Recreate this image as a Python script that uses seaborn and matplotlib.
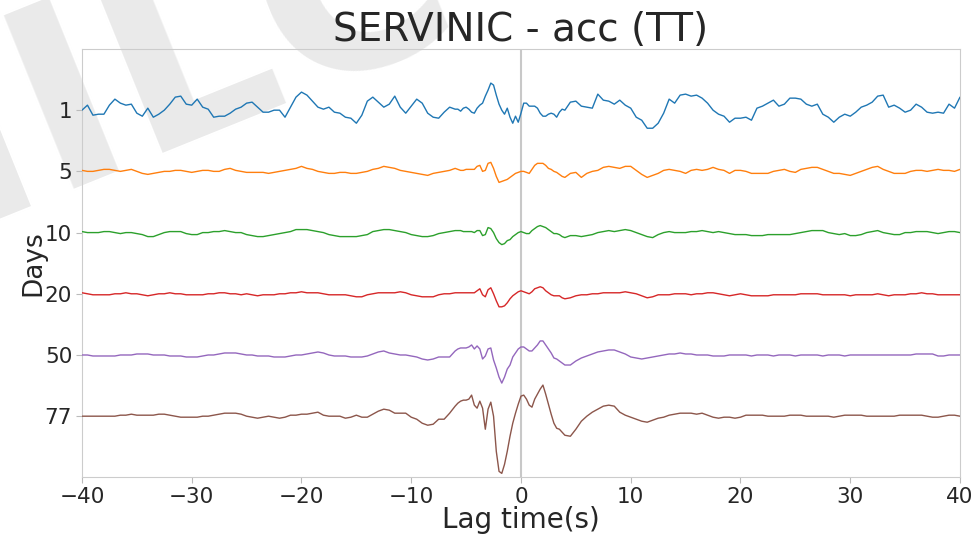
import numpy as np
import pandas as pd
import matplotlib
matplotlib.use("Agg")
import matplotlib.pyplot as plt
import seaborn as sns

# ---------------- data ----------------
# lag-time samples: 0.5 s in the quiet parts, 0.25 s around zero lag
lag = np.concatenate([np.arange(-40, -6, 0.5),
                      np.arange(-6, 4, 0.25),
                      np.arange(4, 40.01, 0.5)])
day_labels = ["1", "5", "10", "20", "50", "77"]

# amplitudes (arbitrary units, positive = upwards)
amp_1 = ([0, 5, -5, -4, -4, 5, 11, 7, 5, 6,
          -3, -6, 2, -7, -4, 0, 6, 13, 14, 6,
          5, 11, 3, 1, -7, -6, -6, -3, 1, 3,
          7, 8, 3, -2, -2, 0, 0, -7, 3, 13,
          18, 15, 9, 3, 1, 3, -2, -3, -7, -8,
          -13, -5, 9, 13, 8, 3, 6, 14, 3, -3,
          4, 11, 7, -3, -7, -8, -2, 3]
         + [1, 1, -1, 2, 3, 1, -2, -3, 2, 5,
            7, 14, 20, 27, 25, 15, 6, 0, -4, 2,
            -7, -13, -6, -12, -3, 7, 7, 4, 4, 4,
            2, -3, -6, -6, -4, -3, -4, -7, -2, 1]
         + [0, 8, 9,
            4, 3, 2, 16, 10, 9, 6, 10, 5, 2,
            -7, -10, -18, -18, -13, -3, 11, 7, 15, 16,
            14, 15, 12, 7, 0, -4, -6, -12, -8, -8,
            -7, -10, 2, 4, 7, 10, 4, 6, 12, 12,
            11, 6, 4, 6, -4, -7, -12, -7, -4, -6,
            -2, 3, 5, 8, 14, 15, 3, 5, 2, -2,
            0, 6, 3, -2, -3, -2, -3, 6, 2, 13])

amp_5 = ([1, 0, 0, 1, 2, 2, 1, 0, 1, 2,
          0, -2, -3, -2, -1, 0, 0, 1, 1, 0,
          -1, 0, 1, 1, 0, 0, 2, 3, 1, 0,
          -1, -1, -1, -1, -2, -1, 0, 1, 2, 3,
          5, 3, 2, 0, -1, -2, -2, -1, -1, -2,
          -2, -1, 0, 2, 3, 5, 4, 3, 1, 0,
          -1, -2, -3, -4, -2, -1, 0, 1]
         + [3, 2, 1, 1, 2, 2, 2, 2, 5, 6,
            0, 1, 8, 9, 3, -5, -11, -10, -9, -8,
            -6, -4, -2, -1, 0, 0, -1, -2, 2, 6,
            8, 8, 8, 6, 3, 2, 0, -1, -3, -5]
         + [-6, -2, -1,
            -6, -2, 0, 1, 4, 5, 4, 3, 5, 5,
            1, -3, -6, -4, -2, 1, 2, 1, 0, -2,
            1, 2, 1, 2, 4, 2, 1, -2, 1, 1,
            0, -2, -2, -2, -2, 0, 1, 2, 0, -1,
            2, 3, 4, 4, 2, 0, -2, -2, -3, -4,
            -2, 0, 2, 4, 5, 2, 0, -2, -2, -2,
            0, 1, 1, 0, 1, 2, 1, 1, 0, 2])

amp_10 = ([1, 0, 0, 0, 1, 1, 0, -1, 0, 0,
           -1, -2, -4, -4, -2, 0, 1, 1, 1, -1,
           -2, -2, 0, 0, 1, 1, 2, 1, 0, 0,
           -2, -3, -4, -4, -3, -2, -1, 0, 1, 3,
           3, 3, 2, 1, 0, -2, -3, -4, -4, -4,
           -4, -3, -2, 1, 2, 3, 3, 2, 1, 0,
           -2, -3, -4, -4, -3, -1, 0, 1]
          + [2, 2, 2, 1, 1, 1, 1, 0, 2, 2,
             -3, -2, 5, 4, 0, -6, -10, -12, -11, -8,
             -7, -4, -2, 0, 1, 0, -1, -1, 2, 4,
             6, 7, 6, 5, 3, 1, -1, -1, -2, -4]
          + [-5, -3, -3,
             -4, -3, -2, 0, 1, 2, 1, 2, 3, 2,
             0, -2, -4, -5, -2, 0, 1, 0, 0, 0,
             1, 1, 2, 1, 0, 1, 0, -1, -2, -2,
             -2, -3, -3, -3, -2, -2, -2, -2, -2, -1,
             0, 1, 2, 2, 2, 0, -1, -2, -1, -3,
             -3, -2, 0, 1, 2, 0, -1, -2, -2, 0,
             0, 1, 1, 1, 0, -1, 0, 1, 1, 0])

amp_20 = ([1, 0, -1, -1, -1, -1, 0, 0, 1, 0,
           0, -1, -2, -1, 0, 0, 1, 0, 0, -1,
           -1, -1, -1, 0, 0, 1, 1, 0, 0, -1,
           0, -1, -2, -1, -1, -1, 0, 0, 1, 1,
           2, 1, 1, 1, 0, -1, -1, -1, -1, -2,
           -3, -3, -1, 0, 1, 1, 1, 1, 2, 1,
           -1, -2, -3, -3, -3, -1, 0, 0]
          + [1, 1, 1, 1, 1, 1, 1, 1, 3, 5,
             -1, -3, 4, 6, 0, -7, -13, -13, -12, -9,
             -5, -2, 0, 2, 3, 2, 1, 0, 2, 5,
             6, 7, 6, 3, 1, -1, -2, -2, -2, -4]
          + [-5, -4, -2,
             -1, -1, 0, 0, 1, 1, 1, 1, 2, 1,
             0, -2, -4, -3, -1, -1, -1, 0, 0, 0,
             -1, 0, 0, 1, 1, 0, -1, -2, -1, 0,
             -1, -2, -2, -2, -2, -1, -1, -1, -1, -1,
             0, 0, 0, 0, -1, -1, -1, -1, -1, -2,
             -1, -1, -1, -1, 0, -1, -2, -1, -1, -1,
             0, 0, 1, 0, 0, -1, -1, -1, -1, -1])

amp_50 = ([0, 0, -1, -1, -1, -1, -1, 0, 0, 0,
           1, 1, 1, 0, 0, 0, -1, -1, -1, -2,
           -2, -2, -1, 0, 0, 1, 2, 2, 2, 1,
           0, 0, -1, -1, -1, -2, -2, -2, -1, 0,
           0, 1, 2, 3, 2, 0, -1, -1, -1, -2,
           -2, -2, -1, 1, 3, 4, 2, 1, 0, 0,
           -1, -2, -4, -5, -4, -2, -2, -2]
          + [4, 6, 7, 7, 7, 8, 10, 6, 9, 6,
             -4, -1, 6, 7, -5, -13, -22, -28, -22, -14,
             -10, -2, 2, 6, 8, 8, 6, 4, 4, 7,
             10, 14, 14, 10, 6, 2, -3, -4, -6, -8]
          + [-10, -10, -6,
             -3, -1, 1, 3, 4, 5, 5, 3, 1, -2,
             -3, -4, -3, -2, -1, 0, 1, 1, 2, 1,
             1, 0, 0, 0, -1, -1, -1, 0, 0, 0,
             0, -1, 0, 0, 0, -1, 0, 0, 0, -1,
             0, 0, 0, 0, -1, 0, 0, 0, -1, 0,
             0, 0, 0, 0, 0, 0, 0, 0, 0, 0,
             0, 1, 1, 1, 1, -1, -1, 0, 0, 0])

amp_77 = ([0, 0, 0, 0, 0, 0, 0, 1, 1, 2,
           1, 1, 1, 1, 2, 2, 1, 0, -1, -1,
           -1, -1, 0, 0, 1, 2, 3, 3, 3, 2,
           0, -1, -2, -1, 0, -1, -2, -1, 1, 1,
           2, 2, 3, 4, 1, 0, 0, 0, -2, -1,
           1, -1, -1, 2, 5, 7, 6, 3, 3, 3,
           -1, -3, -7, -9, -8, -3, -3, 3]
          + [10, 13, 15, 16, 16, 17, 21, 11, 8, 15,
             8, -13, 7, 14, 0, -35, -55, -57, -48, -35,
             -20, -7, 3, 12, 20, 21, 17, 11, 9, 17,
             22, 27, 31, 22, 12, 2, -7, -12, -13, -16]
          + [-19, -20, -13,
             -5, 0, 4, 7, 10, 11, 10, 4, 1, -1,
             -3, -5, -6, -4, -2, -1, 1, 2, 3, 3,
             3, 2, 3, 1, -1, -2, -1, -1, -2, -1,
             1, 1, 1, 1, 0, 0, 0, 0, 1, 1,
             1, 0, 0, 0, 0, 0, -1, 0, 1, 1,
             1, 1, 0, 0, 0, 0, 0, 0, 1, 1,
             1, 1, 1, 0, -1, -1, 0, 1, 1, 0])

amps = [amp_1, amp_5, amp_10, amp_20, amp_50, amp_77]
colors = ["#1f77b4", "#ff7f0e", "#2ca02c", "#d62728", "#9467bd", "#8c564b"]
AMP_SCALE = 1.0 / 61.0   # amplitude units per trace spacing

rows = []
for i, (lab, a) in enumerate(zip(day_labels, amps)):
    a = np.asarray(a, dtype=float)
    rows.append(pd.DataFrame({"lag": lag, "y": (i + 1) - a * AMP_SCALE, "days": lab}))
df = pd.concat(rows, ignore_index=True)

# ---------------- figure ----------------
sns.set_style("white")
plt.rcParams["font.family"] = ["DejaVu Sans"]

fig = plt.figure(figsize=(9.77, 5.37), dpi=100)
ax = fig.add_axes([0.0839, 0.111, 0.8987, 0.7978])
ax.patch.set_alpha(0)

# watermark (light grey, drawn behind the axes)
fig.text(-0.19, 0.47, "MILC", fontsize=185, color="#eaeaea", rotation=22,
         rotation_mode="anchor", ha="left", va="baseline", zorder=-1,
         fontweight="bold")

ax.axvline(0, color="#c8c8c8", lw=1.5, zorder=1)
sns.lineplot(data=df, x="lag", y="y", hue="days", palette=colors,
             estimator=None, sort=False, legend=False, lw=1.0, ax=ax, zorder=3)

ax.set_xlim(-40, 40)
ax.set_ylim(7, 0)
ax.set_xticks(np.arange(-40, 41, 10))
ax.set_yticks(np.arange(1, 7))
ax.set_yticklabels(day_labels)
ax.tick_params(axis="both", labelsize=15.5, length=4, color="#bbbbbb",
               left=True, bottom=True, pad=3)
for sp in ax.spines.values():
    sp.set_color("#cccccc")
ax.set_xlabel("Lag time(s)", fontsize=20, labelpad=-1)
ax.set_ylabel("Days", fontsize=19, labelpad=-1)
ax.set_title("SERVINIC - acc (TT)", fontsize=28, pad=6)

fig.savefig("out.png", dpi=100)
